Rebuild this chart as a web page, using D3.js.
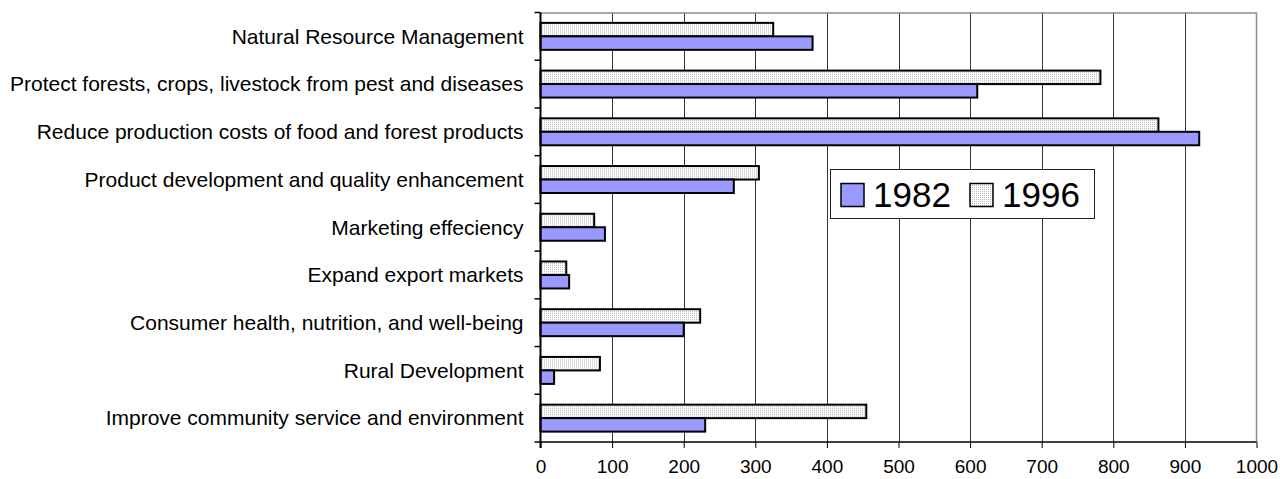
<!DOCTYPE html>
<html>
<head>
<meta charset="utf-8">
<script src="https://cdn.jsdelivr.net/npm/d3@7"></script>
<style>
  body { margin: 0; background: #fff; }
  text { font-family: Arial, "Liberation Sans", sans-serif; fill: #000; }
</style>
</head>
<body>
<script>
const width = 1280;
const height = 479;

// data, top to bottom as in the chart
const categories = [
  'Natural Resource Management',
  'Protect forests, crops, livestock from pest and diseases',
  'Reduce production costs of food and forest products',
  'Product development and quality enhancement',
  'Marketing effeciency',
  'Expand export markets',
  'Consumer health, nutrition, and well-being',
  'Rural Development',
  'Improve community service and environment'
];
const values1982 = [380, 610, 920, 270, 90, 40, 200, 19, 230];
const values1996 = [325, 782, 863, 305, 75, 36, 223, 83, 455];
const seriesNames = ['1996', '1982'];
const tickValues = [0, 100, 200, 300, 400, 500, 600, 700, 800, 900, 1000];

const plot = { left: 540.5, right: 1256.5, top: 12.5, bottom: 442 };

const svg = d3
  .select('body')
  .append('svg')
  .attr('width', width)
  .attr('height', height);

// dotted fill used by the 1996 series
const pattern = svg
  .append('defs')
  .append('pattern')
  .attr('id', 'dots')
  .attr('patternUnits', 'userSpaceOnUse')
  .attr('width', 2)
  .attr('height', 2);
pattern.append('rect').attr('width', 2).attr('height', 2).attr('fill', '#fff');
pattern.append('rect').attr('width', 1).attr('height', 1).attr('fill', '#b8b8b8');

const fills = { 1982: '#9999ff', 1996: 'url(#dots)' };

const x = d3.scaleLinear().domain([0, 1000]).range([plot.left, plot.right]);
const y = d3.scaleBand().domain(categories).range([plot.top, plot.bottom]);
const ySeries = d3
  .scaleBand()
  .domain(seriesNames)
  .range([0, y.bandwidth()])
  .paddingOuter(0.77);

// gridlines
svg
  .append('g')
  .selectAll('line')
  .data(tickValues.slice(1, -1))
  .enter()
  .append('line')
  .attr('x1', (d) => Math.round(x(d)) + 0.5)
  .attr('x2', (d) => Math.round(x(d)) + 0.5)
  .attr('y1', plot.top)
  .attr('y2', plot.bottom)
  .attr('stroke', '#333')
  .attr('stroke-width', 1);

// frame: top and right in gray
svg
  .append('path')
  .attr('d', `M${plot.left},${plot.top + 0.5} H${plot.right} V${plot.bottom}`)
  .attr('fill', 'none')
  .attr('stroke', '#8c8c8c')
  .attr('stroke-width', 1.5);

// bars
const rows = categories.map((c, i) => ({ category: c, 1982: values1982[i], 1996: values1996[i] }));

const group = svg
  .selectAll('.row')
  .data(rows)
  .enter()
  .append('g')
  .attr('class', 'row')
  .attr('transform', (d) => `translate(0, ${y(d.category)})`);

group
  .selectAll('rect')
  .data((d) => seriesNames.map((s) => ({ series: s, value: d[s] })))
  .enter()
  .append('rect')
  .attr('x', x(0))
  .attr('y', (d) => ySeries(d.series))
  .attr('width', (d) => x(d.value) - x(0))
  .attr('height', ySeries.bandwidth())
  .attr('fill', (d) => fills[d.series])
  .attr('stroke', '#000')
  .attr('stroke-width', 2);

// x axis
const xAxis = svg
  .append('g')
  .attr('transform', `translate(0, ${plot.bottom})`)
  .call(d3.axisBottom(x).tickValues(tickValues).tickSize(6).tickPadding(12).tickFormat(d3.format('d')));
xAxis.select('.domain').attr('stroke', '#000').attr('stroke-width', 1.5).attr('d', `M${plot.left},0H${plot.right}`);
xAxis.selectAll('.tick line').attr('stroke', '#000');
xAxis.selectAll('.tick text').style('font-size', '19px').style('font-family', 'Arial, "Liberation Sans", sans-serif');

// y axis: ticks between categories
const yAxis = svg.append('g');
yAxis
  .append('line')
  .attr('x1', plot.left)
  .attr('x2', plot.left)
  .attr('y1', plot.top)
  .attr('y2', plot.bottom + 6)
  .attr('stroke', '#000')
  .attr('stroke-width', 2);
yAxis
  .selectAll('.ytick')
  .data(categories.concat(['end']))
  .enter()
  .append('line')
  .attr('class', 'ytick')
  .attr('x1', plot.left - 6)
  .attr('x2', plot.left)
  .attr('y1', (d, i) => plot.top + i * y.step())
  .attr('y2', (d, i) => plot.top + i * y.step())
  .attr('stroke', '#000')
  .attr('stroke-width', 1.5);
yAxis
  .selectAll('.ylabel')
  .data(categories)
  .enter()
  .append('text')
  .attr('class', 'ylabel')
  .attr('x', plot.left - 17)
  .attr('y', (d) => y(d) + y.bandwidth() / 2)
  .attr('dy', '0.35em')
  .attr('text-anchor', 'end')
  .style('font-size', '21px')
  .text((d) => d);

// legend
const legend = svg.append('g').attr('transform', 'translate(830, 169)');
legend
  .append('rect')
  .attr('x', 0.5)
  .attr('y', 0.5)
  .attr('width', 264)
  .attr('height', 49)
  .attr('fill', '#fff')
  .attr('stroke', '#222')
  .attr('stroke-width', 1);

const legendItems = [
  { name: '1982', sx: 11, tx: 43 },
  { name: '1996', sx: 140, tx: 172 }
];
legend
  .selectAll('.swatch')
  .data(legendItems)
  .enter()
  .append('rect')
  .attr('class', 'swatch')
  .attr('x', (d) => d.sx)
  .attr('y', 14.5)
  .attr('width', 23)
  .attr('height', 23)
  .attr('fill', (d) => fills[d.name])
  .attr('stroke', '#000')
  .attr('stroke-width', 1.5);
legend
  .selectAll('.ltext')
  .data(legendItems)
  .enter()
  .append('text')
  .attr('class', 'ltext')
  .attr('x', (d) => d.tx)
  .attr('y', 37.5)
  .style('font-size', '35px')
  .text((d) => d.name);
</script>
</body>
</html>
